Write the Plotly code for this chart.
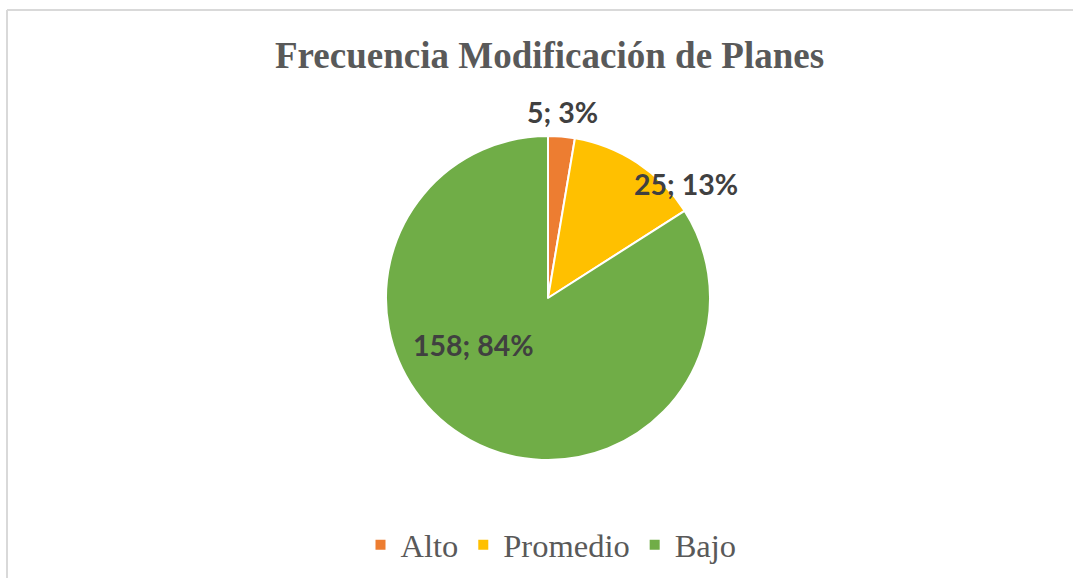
import plotly.graph_objects as go

W, H = 1073, 578

categories = ["Alto", "Promedio", "Bajo"]
values = [5, 25, 158]
colors = ["#ED7D31", "#FFC000", "#70AD47"]
title_text = "Frecuencia Modificación de Planes"

# label anchor positions in pixels (x, y from top)
label_pos = [(562, 112), (686, 184), (473, 345)]

total = sum(values)
label_texts = [f"{v}; {round(v / total * 100)}%" for v in values]

# pie geometry (pixels)
cx, cy, r = 548, 298, 162

fig = go.Figure(
    go.Pie(
        labels=categories,
        values=values,
        marker=dict(colors=colors, line=dict(color="white", width=2)),
        sort=False,
        direction="clockwise",
        rotation=0,
        textinfo="none",
        hoverinfo="label+value+percent",
        domain=dict(
            x=[(cx - r) / W, (cx + r) / W],
            y=[1 - (cy + r) / H, 1 - (cy - r) / H],
        ),
    )
)

annotations = []
for (px, py), t in zip(label_pos, label_texts):
    annotations.append(
        dict(
            x=px / W, y=1 - py / H, xref="paper", yref="paper",
            text=f"<b>{t}</b>", showarrow=False,
            xanchor="center", yanchor="middle",
            font=dict(family="Lato", size=28.5, color="#404040"),
        )
    )
annotations.append(
    dict(
        x=549 / W, y=1 - 55 / H, xref="paper", yref="paper",
        text=f"<b>{title_text}</b>", showarrow=False,
        xanchor="center", yanchor="middle",
        font=dict(family="Liberation Serif", size=37, color="#595959"),
    )
)

fig.update_layout(
    width=W, height=H,
    margin=dict(l=0, r=0, t=0, b=0),
    paper_bgcolor="white",
    plot_bgcolor="white",
    annotations=annotations,
    showlegend=True,
    legend=dict(
        orientation="h",
        x=551 / W, xanchor="center",
        y=1 - 545 / H, yanchor="middle",
        font=dict(family="Liberation Serif", size=32.5, color="#595959"),
        itemclick=False, itemdoubleclick=False,
    ),
    shapes=[
        dict(type="line", xref="paper", yref="paper",
             x0=7 / W, x1=1, y0=1 - 10 / H, y1=1 - 10 / H,
             line=dict(color="#D9D9D9", width=2)),
        dict(type="line", xref="paper", yref="paper",
             x0=7 / W, x1=7 / W, y0=0, y1=1 - 10 / H,
             line=dict(color="#D9D9D9", width=2)),
    ],
)

fig.write_html("out.html")
